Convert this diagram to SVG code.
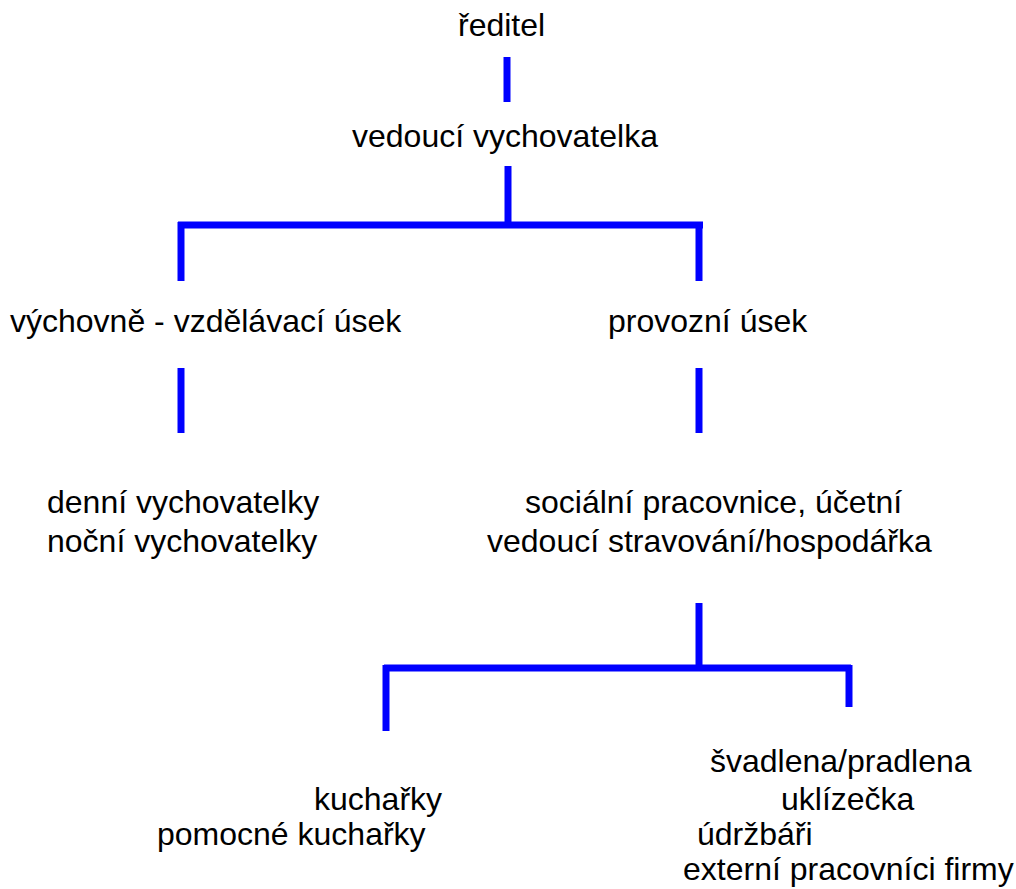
<svg xmlns="http://www.w3.org/2000/svg" width="1016" height="889" viewBox="0 0 1016 889">
<style>
text { font-family: "Liberation Sans", Arial, sans-serif; font-size: 32px; fill: #000; }
.c { stroke: #0000ff; stroke-width: 7; fill: none; stroke-linecap: butt; }
</style>
<rect width="1016" height="889" fill="#fff"/>
<g id="connectors">
<line class="c" x1="507" y1="57" x2="507" y2="102"/>
<line class="c" x1="508" y1="166" x2="508" y2="225"/>
<line class="c" x1="178" y1="225" x2="703" y2="225"/>
<line class="c" x1="181" y1="222" x2="181" y2="281"/>
<line class="c" x1="699" y1="222" x2="699" y2="281"/>
<line class="c" x1="181" y1="368" x2="181" y2="433"/>
<line class="c" x1="699" y1="368" x2="699" y2="433"/>
<line class="c" x1="699" y1="603" x2="699" y2="668"/>
<line class="c" x1="384" y1="668" x2="851" y2="668"/>
<line class="c" x1="386" y1="665" x2="386" y2="731"/>
<line class="c" x1="849" y1="665" x2="849" y2="707"/>
</g>
<g id="n-reditel"><text x="458" y="36">ředitel</text></g>
<g id="n-vedouci"><text x="352" y="147">vedoucí vychovatelka</text></g>
<g id="n-vychovne"><text x="10" y="332">výchovně - vzdělávací úsek</text></g>
<g id="n-provozni"><text x="608" y="332">provozní úsek</text></g>
<g id="n-vychovatelky"><text x="47" y="513">denní vychovatelky</text><text x="47" y="552">noční vychovatelky</text></g>
<g id="n-socialni"><text x="525" y="513">sociální pracovnice, účetní</text><text x="487" y="552">vedoucí stravování/hospodářka</text></g>
<g id="n-kucharky"><text x="314" y="810">kuchařky</text><text x="157" y="845">pomocné kuchařky</text></g>
<g id="n-ostatni"><text x="710" y="772">švadlena/pradlena</text><text x="781" y="810">uklízečka</text><text x="697" y="845">údržbáři</text><text x="683" y="880">externí pracovníci firmy</text></g>
</svg>
